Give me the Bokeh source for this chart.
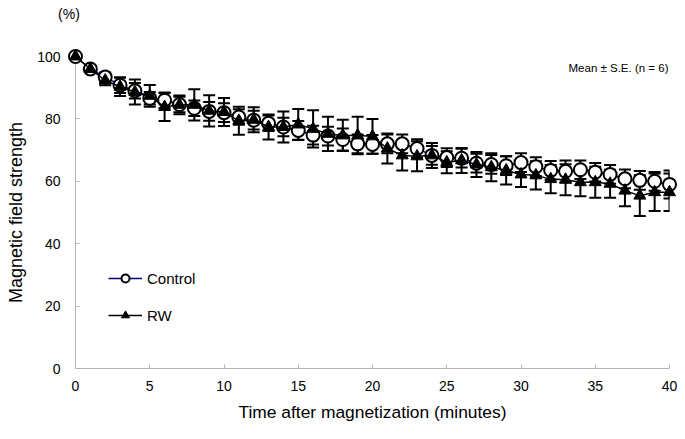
from bokeh.plotting import figure
from bokeh.models import ColumnDataSource, Whisker, TeeHead, Legend, LegendItem, Label, FixedTicker, Range1d
from bokeh.core.properties import value
from bokeh.embed import file_html
from bokeh.resources import INLINE

time = list(range(41))
control = [100, 96, 93.4, 90.8, 89.0, 86.6, 86.0, 84.6, 83.4, 82.4, 82.0, 80.6, 79.6, 78.6, 77.4, 76.3,
           74.8, 74.5, 73.4, 72.0, 71.8, 72.0, 72.0, 70.5, 68.3, 67.6, 67.4, 65.8, 65.4, 65.0, 66.0,
           64.7, 63.5, 63.2, 63.7, 62.9, 62.2, 60.8, 60.3, 60.0, 59.0]
control_se = [0.5, 1, 1.5, 2.5, 2.5, 2, 2.5, 2.5, 2.5, 3, 3, 2.5, 3, 2.5, 3, 3, 3, 3, 3.5, 3, 3,
              3, 3, 3, 3, 3, 3, 3, 3, 3, 3, 3, 3, 3.5, 3, 3, 3, 3, 3, 3, 4.5]
rw = [100, 96, 92.3, 90.3, 88.6, 87.4, 83.8, 84.5, 84.5, 82.6, 82.2, 79.4, 79.7, 77.4, 77.4, 78.2,
      76.8, 75.2, 74.7, 74.7, 74.4, 70.5, 68.3, 68.0, 68.3, 66.1, 66.7, 65.4, 64.5, 63.5, 62.2,
      61.9, 60.7, 60.5, 59.7, 59.7, 59.2, 57.0, 55.4, 56.5, 56.5]
rw_se = [0.5, 1, 1.5, 3, 4, 3.5, 4.5, 3, 5, 5, 4.5, 4.5, 4, 4, 5, 5, 6, 5.5, 5, 6, 5.6, 4.8,
         4.8, 4.8, 4, 3.5, 4, 4, 4.5, 4.5, 4, 4.5, 4.5, 5, 4.5, 5, 4.5, 5, 6.5, 6, 6]
x_ticks = [0, 5, 10, 15, 20, 25, 30, 35, 40]
y_ticks = [0, 20, 40, 60, 80, 100]
unit_text = ["(%)"]

FONT = "Liberation Sans"

src_c = ColumnDataSource(dict(x=time, y=control,
                              lo=[v - e for v, e in zip(control, control_se)],
                              hi=[v + e for v, e in zip(control, control_se)]))
src_r = ColumnDataSource(dict(x=time, y=rw,
                              lo=[v - e for v, e in zip(rw, rw_se)],
                              hi=[v + e for v, e in zip(rw, rw_se)]))

p = figure(width=685, height=439, output_backend="svg", toolbar_location=None,
           x_range=Range1d(0, 40), y_range=Range1d(0, 100),
           min_border_left=75, min_border_right=16, min_border_top=56, min_border_bottom=71)
p.outline_line_color = None
p.xgrid.visible = False
p.ygrid.visible = False
p.background_fill_color = "white"

for ax in (p.xaxis[0], p.yaxis[0]):
    ax.axis_line_color = "#b4b4b4"
    ax.major_tick_line_color = "#b4b4b4"
    ax.major_tick_in = 4
    ax.major_tick_out = 0
    ax.minor_tick_line_color = None
    ax.major_label_text_font = FONT
    ax.major_label_text_font_size = "14px"
    ax.major_label_text_color = "black"
    ax.axis_label_text_font = FONT
    ax.axis_label_text_font_style = "normal"
    ax.axis_label_text_color = "black"

p.xaxis.axis_label_text_font_size = "17.4px"
p.yaxis.axis_label_text_font_size = "18px"
p.xaxis.ticker = FixedTicker(ticks=x_ticks)
p.yaxis.ticker = FixedTicker(ticks=y_ticks)
p.xaxis.axis_label = "Time after magnetization (minutes)"
p.yaxis.axis_label = "Magnetic field strength"
p.xaxis.major_label_standoff = 12
p.yaxis.major_label_standoff = 15
p.xaxis.axis_label_standoff = 8
p.yaxis.axis_label_standoff = 8

for src in (src_c, src_r):
    w = Whisker(source=src, base="x", upper="hi", lower="lo", line_color="black", line_width=2,
                upper_head=TeeHead(size=12, line_color="black", line_width=2),
                lower_head=TeeHead(size=12, line_color="black", line_width=2),
                level="annotation")
    p.add_layout(w)

lc = p.line("x", "y", source=src_c, line_color="#000080", line_width=1.5, level="overlay")
mc = p.scatter("x", "y", source=src_c, marker="circle", size=13, fill_color="white",
               line_color="black", line_width=2, level="overlay")
lr = p.line("x", "y", source=src_r, line_color="black", line_width=1.5, level="overlay")
mr = p.scatter("x", "y", source=src_r, marker="triangle", size=12, fill_color="black",
               line_color="black", line_width=1, level="overlay")

legend = Legend(items=[LegendItem(label="Control", renderers=[lc, mc]),
                       LegendItem(label="RW", renderers=[lr, mr])],
                location=(33, 43), orientation="vertical",
                border_line_color=None, background_fill_alpha=0,
                padding=0, margin=0, spacing=17, glyph_width=34, glyph_height=20,
                label_height=20, label_standoff=5,
                label_text_font=FONT, label_text_font_size="15px", label_text_color="black")
p.add_layout(legend)

p.text(x=[-0.44], y=[113.5], text=unit_text, text_font=value(FONT), text_font_size="14px",
       text_align="center", text_baseline="middle", text_color="black", level="overlay")
p.add_layout(Label(x=39.93, y=96.2, text="Mean ± S.E. (n = 6)", text_font=FONT,
                   text_font_size="11.5px", text_align="right", text_baseline="middle",
                   text_color="black", level="overlay"))

open("out.html", "w").write(file_html(p, INLINE))
